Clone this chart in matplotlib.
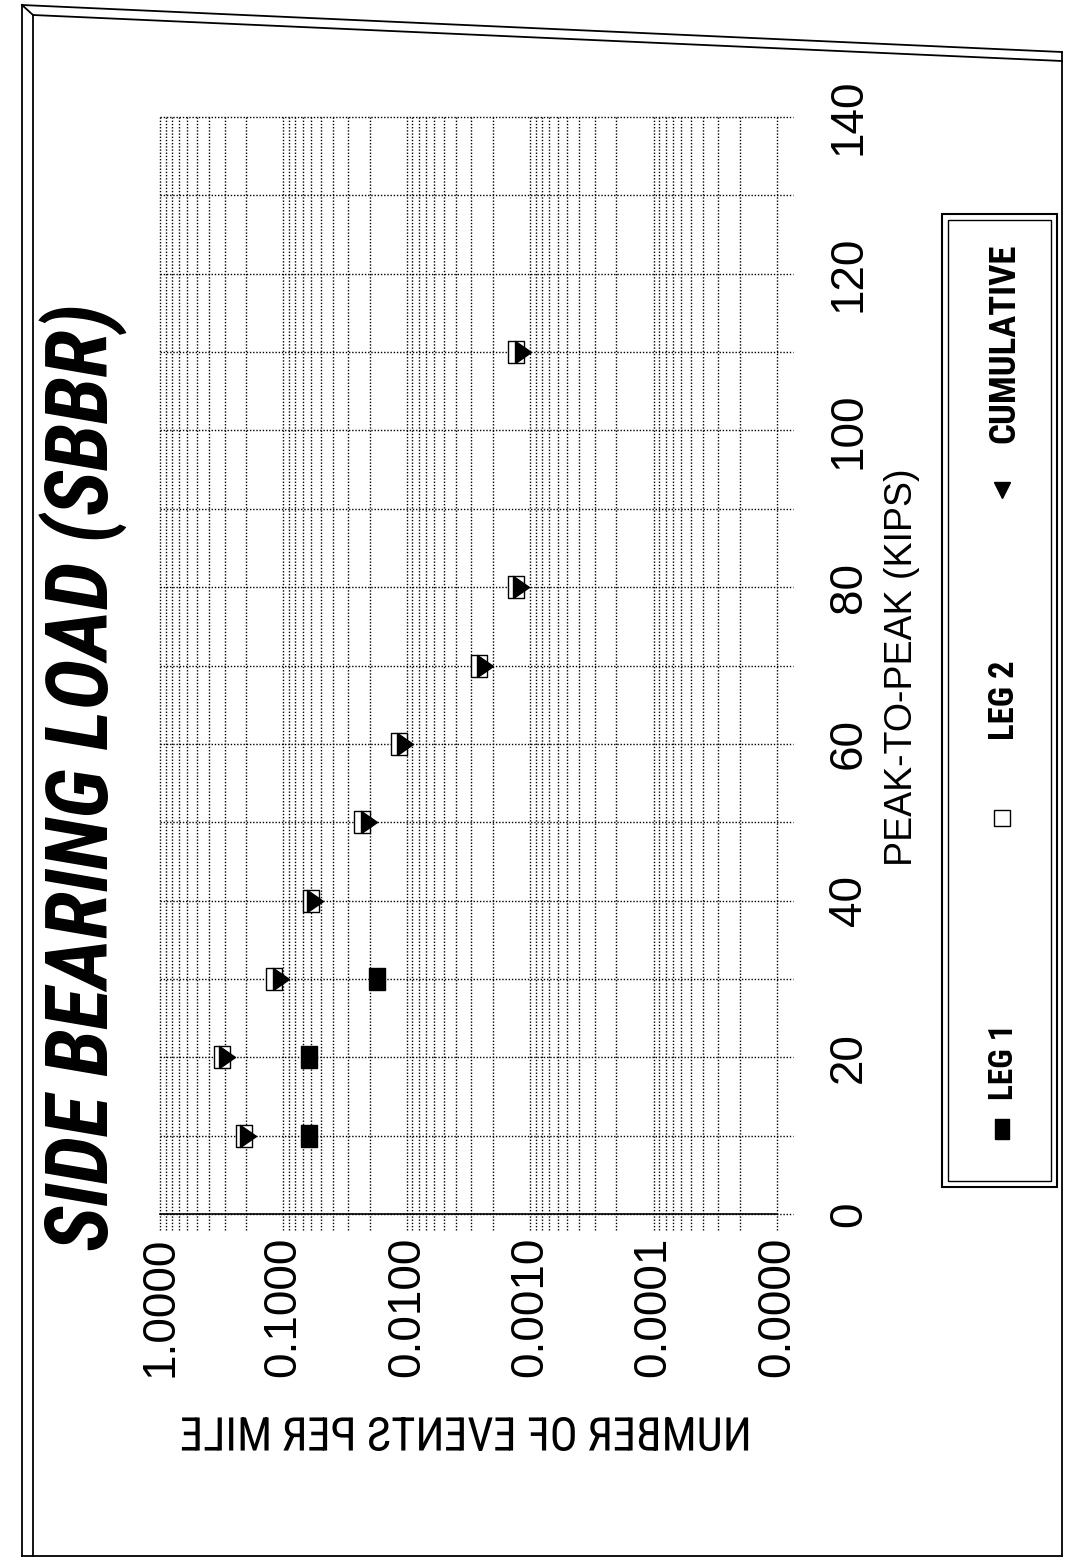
import matplotlib
matplotlib.use("Agg")
import matplotlib.pyplot as plt
import matplotlib.colors as mcolors
from matplotlib import font_manager as fm
from matplotlib.text import Text
from matplotlib.textpath import TextPath
from matplotlib.transforms import Affine2D
from matplotlib.lines import Line2D
from matplotlib.patches import Rectangle
from matplotlib.ticker import FixedLocator, FuncFormatter, NullFormatter

# ---------------- data ----------------
kips = [10, 20, 30, 40, 50, 60, 70, 80, 110]
leg1_kips = [10, 20, 30]
leg1 = [0.0615, 0.0615, 0.0173]
leg2 = [0.207, 0.313, 0.119, 0.060, 0.0231, 0.0115, 0.00261, 0.00130, 0.00131]
cumulative = [0.193, 0.285, 0.104, 0.055, 0.0203, 0.0103, 0.00233, 0.00118, 0.00115]
x_major = [1.0, 0.1, 0.01, 0.001, 0.0001, 0.00001]
y_major = [0, 20, 40, 60, 80, 100, 120, 140]
y_grid = [0, 10, 20, 30, 40, 50, 60, 70, 80, 90, 100, 110, 120, 130, 140]
legend_labels = ["LEG 1", "LEG 2", "CUMULATIVE"]

# ---------------- fonts ----------------
avail = {f.name for f in fm.fontManager.ttflist}
NARROW = next((n for n in ["Liberation Sans Narrow", "Arial Narrow", "Roboto Condensed",
                           "PT Sans Narrow", "Fira Sans Condensed"] if n in avail), "DejaVu Sans")
REG = "Liberation Sans" if "Liberation Sans" in avail else "DejaVu Sans"
plt.rcParams["font.family"] = [REG, "DejaVu Sans"]


class MirroredText(Text):
    """A real text artist drawn mirrored left-to-right (as in the scanned reference)."""

    def _tr(self):
        prop = self.get_fontproperties()
        path = TextPath((0, 0), self.get_text(), prop=prop)
        ext = path.get_extents()
        x, y = self.get_transform().transform(self.get_unitless_position())
        s = self.figure.dpi / 72.0
        tr = (Affine2D().translate(-(ext.x0 + ext.x1) / 2, -(ext.y0 + ext.y1) / 2)
              .scale(-s, s).rotate_deg(self.get_rotation()).translate(x, y))
        return path, tr

    def draw(self, renderer):
        if not self.get_visible() or not self.get_text():
            return
        path, tr = self._tr()
        gc = renderer.new_gc()
        gc.set_linewidth(0)
        col = mcolors.to_rgba(self.get_color())
        gc.set_foreground(col)
        renderer.draw_path(gc, path, tr, rgbFace=col)
        gc.restore()

    def get_window_extent(self, renderer=None, dpi=None):
        path, tr = self._tr()
        return path.get_extents(tr)


W, H = 1069, 1566
fig = plt.figure(figsize=(W / 100, H / 100), dpi=100)
fig.patch.set_facecolor("white")


def fx(px):
    return px / W


def fy(py):
    return 1 - py / H


# marker shapes: taller than wide, as in the scan
TALL_SQUARE = [(-0.7, -1), (0.7, -1), (0.7, 1), (-0.7, 1), (-0.7, -1)]
RIGHT_TRI = [(-0.72, -1), (0.72, 0), (-0.72, 1), (-0.72, -1)]

# ---------------- axes ----------------
ax_l, ax_r, ax_t, ax_b = 160, 777, 117, 1214
ax = fig.add_axes([fx(ax_l), fy(ax_b), fx(ax_r - ax_l), (ax_b - ax_t) / H])
ax.set_xscale("log")
ax.set_xlim(1.0, 1e-5)
ax.set_ylim(0, 140)
for s in ["top", "left", "right"]:
    ax.spines[s].set_visible(False)
ax.spines["bottom"].set_linewidth(1.2)

# grid lines (dotted), extended slightly beyond the plot like the reference
minor_x = [m * 10.0 ** e for e in range(-5, 0) for m in range(2, 10)]
ax.vlines(minor_x + x_major, -2.0, 140, colors="black", linestyles=(0, (1, 1.3)),
          linewidth=1.0, clip_on=False, zorder=1)
ax.hlines(y_grid, 1.0, 10 ** -5.13, colors="black", linestyles=(0, (1, 1.3)),
          linewidth=1.0, clip_on=False, zorder=1)

ax.xaxis.set_major_locator(FixedLocator(x_major))
ax.xaxis.set_minor_locator(FixedLocator(minor_x))
ax.xaxis.set_minor_formatter(NullFormatter())
ax.xaxis.set_major_formatter(FuncFormatter(lambda v, p: f"{v:.4f}"))
ax.yaxis.set_major_locator(FixedLocator(y_major))
ax.yaxis.tick_right()
ax.tick_params(axis="both", which="both", length=0)
ax.tick_params(axis="x", pad=16, labelsize=33, labelrotation=90)
ax.tick_params(axis="y", pad=36, labelsize=33, labelrotation=90)
for lab in ax.get_yticklabels():
    lab.set_verticalalignment("center")

# ---------------- data marks ----------------
ax.plot(leg1, leg1_kips, linestyle="none", marker=TALL_SQUARE, markersize=16,
        markerfacecolor="black", markeredgecolor="black", zorder=3, clip_on=False)
ax.plot(leg2, kips, linestyle="none", marker=TALL_SQUARE, markersize=15.5,
        markerfacecolor="white", markeredgecolor="black", markeredgewidth=1.0, zorder=3, clip_on=False)
ax.plot(cumulative, kips, linestyle="none", marker=RIGHT_TRI, markersize=16,
        markerfacecolor="black", markeredgecolor="black", zorder=4, clip_on=False)

# ---------------- texts ----------------
fig.text(fx(84), fy(777), "SIDE BEARING LOAD (SBBR)", rotation=90, ha="center", va="center",
         family=NARROW, fontsize=62, fontweight="bold", fontstyle="italic")
fig.text(fx(902), fy(667), "PEAK-TO-PEAK (KIPS)", rotation=90, ha="center", va="center",
         family=REG, fontsize=27)
fig.add_artist(MirroredText(fx(465), fy(1434), "NUMBER OF EVENTS PER MILE",
                            family=NARROW, fontsize=33.5, color="black"))

# ---------------- legend (drawn by hand, rotated like the reference) ----------------
lx0, lx1, ly0, ly1 = 942, 1057, 214, 1187
fig.add_artist(Rectangle((fx(lx0), fy(ly1)), fx(lx1 - lx0), (ly1 - ly0) / H,
                         transform=fig.transFigure, fill=False, edgecolor="black", linewidth=1.5))
fig.add_artist(Rectangle((fx(lx0 + 6), fy(ly1 - 6)), fx(lx1 - lx0 - 12), (ly1 - ly0 - 12) / H,
                         transform=fig.transFigure, fill=False, edgecolor="black", linewidth=1.0))
leg_marker_y = [1129, 818, 490]
leg_text_y = [1062, 700, 343]
leg_sizes = [24, 25, 26.5]
leg_styles = [dict(marker=TALL_SQUARE, markerfacecolor="black", markeredgecolor="black", markersize=15),
              dict(marker="s", markerfacecolor="white", markeredgecolor="black", markersize=11,
                   markeredgewidth=1.0),
              dict(marker="v", markerfacecolor="black", markeredgecolor="black", markersize=12)]
for lab, my, ty, fs, st in zip(legend_labels, leg_marker_y, leg_text_y, leg_sizes, leg_styles):
    fig.add_artist(Line2D([fx(1002)], [fy(my)], transform=fig.transFigure, linestyle="none", **st))
    fig.text(fx(1004), fy(ty), lab, rotation=90, ha="center", va="center",
             family=NARROW, fontsize=fs, fontweight="bold")

# ---------------- page border of the scanned sheet ----------------
bl = dict(transform=fig.transFigure, color="black", linewidth=1.3)
fig.add_artist(Line2D([fx(22), fx(1062)], [fy(5), fy(52)], **bl))
fig.add_artist(Line2D([fx(33), fx(1062)], [fy(15), fy(61)], **bl))
fig.add_artist(Line2D([fx(22), fx(22)], [fy(5), fy(1556)], **bl))
fig.add_artist(Line2D([fx(33), fx(33)], [fy(15), fy(1556)], **bl))
fig.add_artist(Line2D([fx(22), fx(33)], [fy(5), fy(15)], **bl))
fig.add_artist(Line2D([fx(22), fx(1062)], [fy(1556), fy(1556)], **bl))
fig.add_artist(Line2D([fx(1062), fx(1062)], [fy(52), fy(1556)], **bl))

fig.savefig("out.png", dpi=100, facecolor="white")
